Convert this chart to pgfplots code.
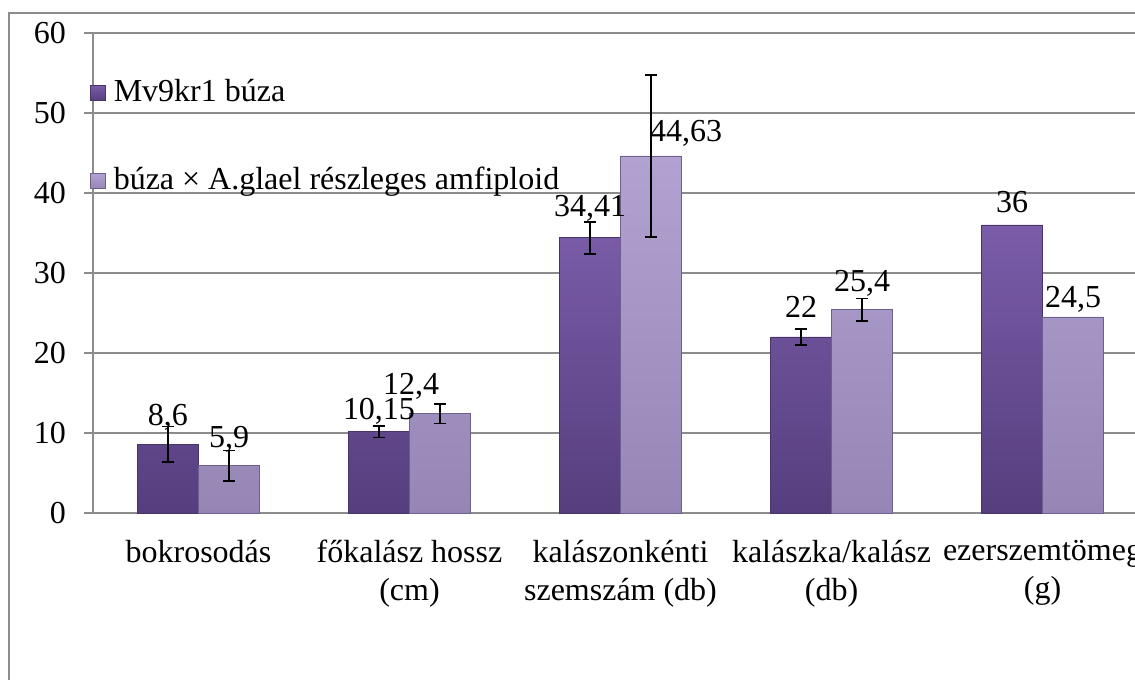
\documentclass[border=0pt]{standalone}
\usepackage{fontspec}
\setmainfont{Liberation Serif}
\usepackage{pgfplots}
\usepackage{pgfplotstable}
\pgfplotsset{compat=1.18}
\definecolor{gridgray}{RGB}{140,140,140}
\definecolor{darkTop}{RGB}{122,92,168}
\definecolor{darkBot}{RGB}{86,62,126}
\definecolor{lightTop}{RGB}{178,162,210}
\definecolor{lightBot}{RGB}{150,134,182}
\definecolor{edgeDark}{RGB}{72,52,104}
\definecolor{edgeLight}{RGB}{110,96,140}

\pgfplotstableread{
x y dx dy
0 8.6 -22.875 14.25
1 10.15 -22.875 9
2 34.41 -22.875 15.75
3 22 -22.875 14.25
4 36 -22.875 9
}\dataA
\pgfplotstableread{
x y dx dy
0 5.9 22.875 13.5
1 12.4 1.125 14.25
2 44.63 49.125 10.5
3 25.4 22.875 13.5
4 24.5 22.875 6.75
}\dataB
\pgfplotstableread{
x y e
-0.14455 8.6 2.2
0.85545 10.15 0.7
1.85545 34.41 2.0
2.85545 22 1.0
}\errA
\pgfplotstableread{
x y e
0.14455 5.9 1.9
1.14455 12.4 1.2
2.14455 44.63 10.1
3.14455 25.4 1.4
}\errB

\begin{document}
\begin{tikzpicture}[font=\fontsize{24}{28}\selectfont]
\useasboundingbox (-69.75pt,-125.25pt) rectangle (781.5pt,384.75pt);
\clip (-69.75pt,-125.25pt) rectangle (781.5pt,384.75pt);
\draw[gridgray, line width=1.1pt] (-63pt,-300pt) -- (-63pt,375pt) -- (900pt,375pt);
\begin{axis}[
  at={(0pt,0pt)}, anchor=south west,
  scale only axis,
  width=791.25pt, height=360pt,
  xmin=-0.5, xmax=4.5, ymin=0, ymax=60,
  clip=false,
  axis x line*=bottom, axis y line*=left,
  axis line style={draw=gridgray, line width=1.1pt, -},
  ytick={0,10,...,60},
  ymajorgrids,
  grid style={draw=gridgray, line width=1.1pt},
  tick align=outside,
  major tick length=6.75pt,
  ytick style={draw=gridgray, line width=1.1pt},
  xtick={0,1,2,3,4},
  xtick style={draw=none},
  xticklabels={bokrosodás, {főkalász hossz\\(cm)}, {kalászonkénti\\szemszám (db)}, {kalászka/kalász\\(db)}, {ezerszemtömeg\\(g)}},
  xticklabel style={align=center, font=\fontsize{24}{28.5}\selectfont, yshift=-10pt},
  yticklabel style={font=\fontsize{24}{28}\selectfont, xshift=-10pt},
  extra x ticks={-0.5,0.5,1.5,2.5,3.5,4.5},
  extra x tick labels={},
  extra x tick style={grid=none, tick style={draw=gridgray, line width=1.1pt}, major tick length=6pt},
  /pgf/number format/assume math mode=true,
  /pgf/number format/.cd, use comma, 1000 sep={},
  /pgfplots/.cd,
  legend style={at={(rel axis cs:-0.003,0.906)}, anchor=north west, draw=none, fill=none,
    inner sep=0pt, row sep=44pt, font=\fontsize{24}{28}\selectfont,
    nodes={inner sep=0pt, text height=17pt, text depth=5pt}},
  legend cell align=left,
  legend image code/.code={\path[#1] (0pt,-5.6pt) rectangle (11.25pt,5.6pt);},
]
\addplot[ybar, bar width=45.75pt, bar shift=-22.875pt, top color=darkTop, bottom color=darkBot, draw=edgeDark, line width=0.5pt,
  nodes near coords, point meta=y,
  visualization depends on={\thisrow{dx} \as \dx},
  visualization depends on={\thisrow{dy} \as \dy},
  every node near coord/.append style={black, anchor=base, xshift=\dx pt, yshift=\dy pt, font=\fontsize{24}{28}\selectfont, inner sep=0pt}]
  table[x=x, y=y] {\dataA};
\addlegendentry{\hspace{6pt}Mv9kr1 búza}
\addplot[ybar, bar width=45.75pt, bar shift=22.875pt, top color=lightTop, bottom color=lightBot, draw=edgeLight, line width=0.5pt,
  nodes near coords, point meta=y,
  visualization depends on={\thisrow{dx} \as \dx},
  visualization depends on={\thisrow{dy} \as \dy},
  every node near coord/.append style={black, anchor=base, xshift=\dx pt, yshift=\dy pt, font=\fontsize{24}{28}\selectfont, inner sep=0pt}]
  table[x=x, y=y] {\dataB};
\addlegendentry{\hspace{6pt}búza × A.glael részleges amfiploid}
\addplot[draw=none, mark=none, forget plot,
  error bars/.cd, y dir=both, y explicit, error mark=|,
  error bar style={draw=black, line width=1.2pt},
  error mark options={draw=black, mark size=4.5pt, line width=1.2pt}]
  table[x=x, y=y, y error=e] {\errA};
\addplot[draw=none, mark=none, forget plot,
  error bars/.cd, y dir=both, y explicit, error mark=|,
  error bar style={draw=black, line width=1.2pt},
  error mark options={draw=black, mark size=4.5pt, line width=1.2pt}]
  table[x=x, y=y, y error=e] {\errB};
\end{axis}
\end{tikzpicture}
\end{document}
